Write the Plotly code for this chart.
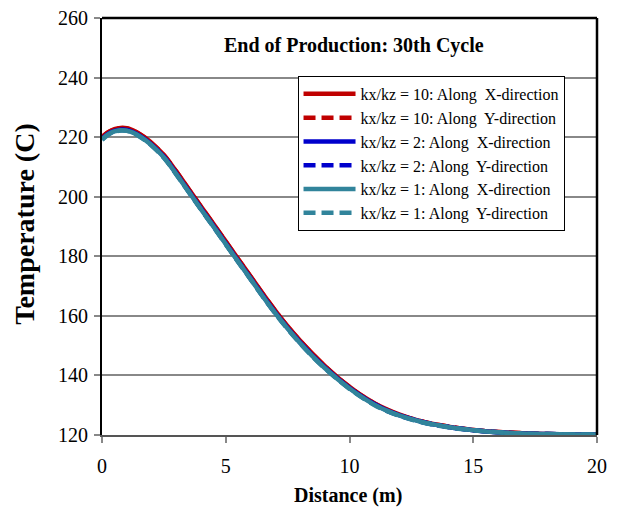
import plotly.graph_objects as go

distance = [0, 0.25, 0.5, 0.75, 1.0, 1.25, 1.5, 1.75, 2.0, 2.5, 3.0, 3.5, 4.0, 4.5, 5.0,
            5.5, 6.0, 6.5, 7.0, 7.5, 8.0, 8.5, 9.0, 9.5, 10.0, 10.5, 11.0, 11.5, 12.0,
            12.5, 13.0, 13.5, 14.0, 14.5, 15.0, 16.0, 17.0, 18.0, 19.0, 20.0]

temp_k10_x = [220.0, 221.7, 222.7, 223.1, 223.0, 222.3, 221.2, 219.8, 218.1, 214.0, 208.5,
              202.6, 196.7, 190.9, 185.0, 179.1, 173.3, 167.4, 161.8, 156.5, 151.7, 147.3,
              143.2, 139.5, 136.2, 133.2, 130.7, 128.6, 126.9, 125.5, 124.4, 123.5, 122.8,
              122.2, 121.7, 121.0, 120.6, 120.3, 120.2, 120.2]
temp_k10_y = [219.9, 221.6, 222.6, 223.0, 222.9, 222.2, 221.1, 219.7, 218.0, 213.9, 208.4,
              202.5, 196.6, 190.8, 184.9, 179.0, 173.2, 167.3, 161.7, 156.4, 151.6, 147.2,
              143.1, 139.4, 136.1, 133.1, 130.6, 128.5, 126.8, 125.5, 124.4, 123.5, 122.8,
              122.2, 121.7, 121.0, 120.6, 120.3, 120.2, 120.2]
temp_k2_x = [219.4, 221.1, 222.1, 222.5, 222.4, 221.7, 220.6, 219.2, 217.5, 213.4, 207.8,
             201.9, 196.0, 190.2, 184.3, 178.4, 172.6, 166.7, 161.1, 155.9, 151.1, 146.7,
             142.7, 139.1, 135.8, 132.9, 130.4, 128.3, 126.7, 125.4, 124.3, 123.4, 122.7,
             122.1, 121.6, 120.9, 120.5, 120.3, 120.2, 120.2]
temp_k2_y = [219.3, 221.0, 222.0, 222.4, 222.3, 221.6, 220.5, 219.1, 217.4, 213.3, 207.7,
             201.8, 195.9, 190.1, 184.2, 178.3, 172.5, 166.6, 161.0, 155.8, 151.0, 146.6,
             142.6, 139.0, 135.7, 132.8, 130.3, 128.2, 126.6, 125.3, 124.2, 123.4, 122.7,
             122.1, 121.6, 120.9, 120.5, 120.3, 120.2, 120.2]
temp_k1_x = [219.2, 220.9, 221.9, 222.3, 222.2, 221.5, 220.4, 219.0, 217.3, 213.2, 207.6,
             201.7, 195.8, 190.0, 184.1, 178.2, 172.4, 166.5, 160.9, 155.7, 150.9, 146.5,
             142.5, 138.9, 135.6, 132.7, 130.2, 128.2, 126.6, 125.3, 124.2, 123.4, 122.7,
             122.1, 121.6, 120.9, 120.5, 120.3, 120.2, 120.2]
temp_k1_y = [219.1, 220.8, 221.8, 222.2, 222.1, 221.4, 220.3, 218.9, 217.2, 213.1, 207.5,
             201.6, 195.7, 189.9, 184.0, 178.1, 172.3, 166.4, 160.8, 155.6, 150.8, 146.4,
             142.4, 138.8, 135.5, 132.6, 130.1, 128.1, 126.5, 125.2, 124.1, 123.3, 122.6,
             122.0, 121.6, 120.9, 120.5, 120.3, 120.2, 120.2]

series_names = [
    "kx/kz = 10: Along  X-direction",
    "kx/kz = 10: Along  Y-direction",
    "kx/kz = 2: Along  X-direction",
    "kx/kz = 2: Along  Y-direction",
    "kx/kz = 1: Along  X-direction",
    "kx/kz = 1: Along  Y-direction",
]
series_values = [temp_k10_x, temp_k10_y, temp_k2_x, temp_k2_y, temp_k1_x, temp_k1_y]
series_colors = ["#C00000", "#C00000", "#0000CC", "#0000CC", "#31849B", "#31849B"]
series_dash = ["solid", "12px,6px", "solid", "12px,6px", "solid", "12px,6px"]

x_ticks = [0, 5, 10, 15, 20]
y_ticks = [120, 140, 160, 180, 200, 220, 240, 260]

FONT = "Liberation Serif, Times New Roman, serif"

fig = go.Figure()
for name, vals, col, dash in zip(series_names, series_values, series_colors, series_dash):
    fig.add_trace(go.Scatter(
        x=distance, y=vals, mode="lines", name=name,
        line=dict(color=col, width=4.5, dash=dash, shape="spline", smoothing=1.0),
    ))

fig.update_layout(
    width=618, height=518,
    margin=dict(l=94, r=29, t=10, b=91),
    paper_bgcolor="white", plot_bgcolor="white",
    font=dict(family=FONT, color="black", size=20),
    showlegend=True,
    legend=dict(
        x=0.395, y=0.861, xanchor="left", yanchor="top",
        bgcolor="white", bordercolor="black", borderwidth=1,
        font=dict(family=FONT, size=16, color="black"),
        tracegroupgap=0, itemwidth=52,
    ),
    annotations=[
        dict(text="<b>End of Production: 30th Cycle</b>",
             x=0.51, y=0.935, xref="paper", yref="paper",
             xanchor="center", yanchor="middle", showarrow=False,
             font=dict(family=FONT, size=20, color="black")),
        dict(text="<b>Distance (m)</b>",
             x=0.497, y=-0.144, xref="paper", yref="paper",
             xanchor="center", yanchor="middle", showarrow=False,
             font=dict(family=FONT, size=20, color="black")),
        dict(text="<b>Temperature (C)</b>", textangle=-90,
             x=-0.157, y=0.505, xref="paper", yref="paper",
             xanchor="center", yanchor="middle", showarrow=False,
             font=dict(family=FONT, size=28, color="black")),
    ],
)

fig.update_xaxes(
    range=[0, 20], tickvals=x_ticks, ticktext=[str(v) for v in x_ticks],
    showgrid=False, zeroline=False, automargin=False,
    showline=True, linecolor="#555555", linewidth=2, mirror=False,
    ticks="outside", ticklen=6, tickcolor="#888888", tickwidth=1.5,
    tickfont=dict(family=FONT, size=20), ticklabelstandoff=6,
    ticklabeloverflow="allow",
)
fig.update_yaxes(
    range=[120, 260], tickvals=y_ticks, ticktext=[str(v) for v in y_ticks],
    showgrid=True, gridcolor="#888888", gridwidth=1.5, zeroline=False, automargin=False,
    showline=True, linecolor="black", linewidth=2, mirror=False,
    ticks="outside", ticklen=6, tickcolor="#888888", tickwidth=1.5,
    tickfont=dict(family=FONT, size=20), ticklabelstandoff=2,
    ticklabeloverflow="allow",
)

# top and right frame lines
fig.add_shape(type="line", xref="paper", yref="paper", x0=0, x1=1, y0=1, y1=1,
              line=dict(color="black", width=2.5))
fig.add_shape(type="line", xref="paper", yref="paper", x0=1, x1=1, y0=0, y1=1,
              line=dict(color="black", width=2.5))

fig.write_html("out.html")
